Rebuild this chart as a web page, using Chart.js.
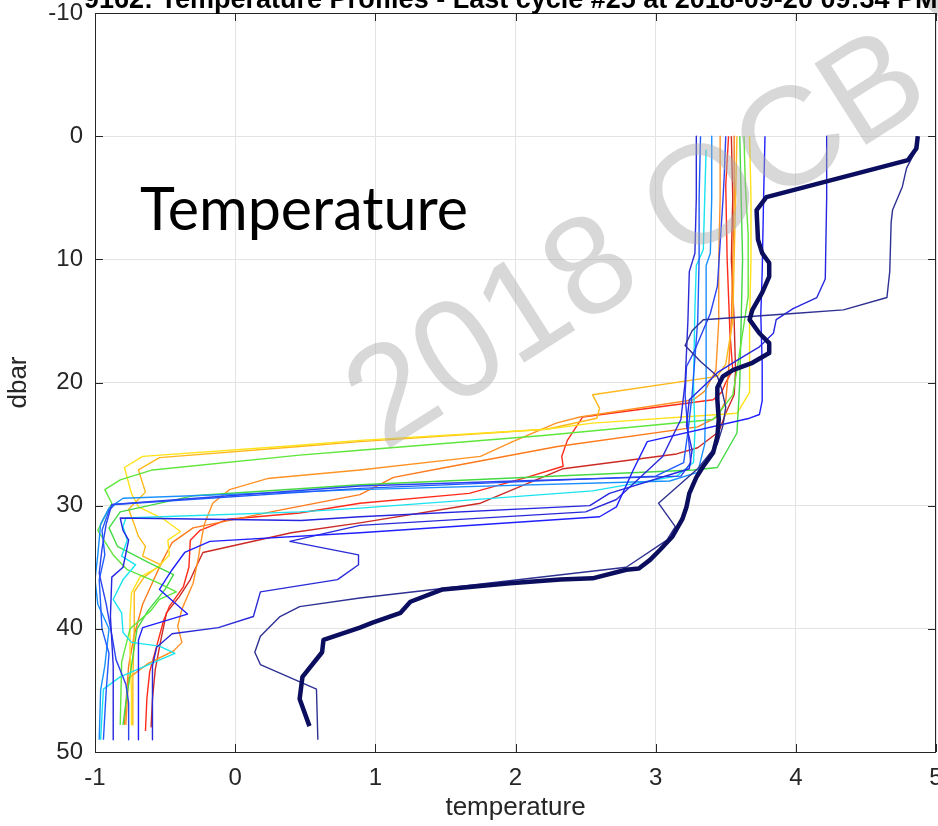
<!DOCTYPE html>
<html>
<head>
<meta charset="utf-8">
<script src="https://cdn.jsdelivr.net/npm/chart.js@4.4.0/dist/chart.umd.min.js"></script>
<style>
  html, body { margin: 0; padding: 0; background: #fff; overflow: hidden; }
</style>
</head>
<body>
<canvas id="profiles" width="938" height="826"></canvas>
<script>
// temperature / pressure pairs for each float cycle: [temperature, dbar]
const cycle01 = [[4.87,0],[4.84,1.5],[4.79,2.6],[4.76,4.1],[4.69,6.0],[4.68,7.0],[4.67,11.0],[4.65,13.1],[4.34,14.1],[3.98,14.4],[3.34,14.9],[3.26,15.8],[3.21,17.0],[3.32,18.3],[3.44,19.5],[3.47,20.5],[3.50,22.0],[3.48,23.5],[3.44,25.0],[3.30,27.0],[3.17,28.3],[3.02,29.8],[3.14,31.7],[3.08,32.8],[2.79,35.0],[0.89,37.5],[0.46,38.2],[0.32,39.0],[0.18,40.6],[0.14,41.9],[0.18,42.9],[0.58,44.9],[0.59,49.0]];
const cycle02 = [[4.22,0],[4.22,5.0],[4.21,11.6],[4.15,13.1],[3.98,14.0],[3.86,14.9],[3.84,16.0],[3.74,17.1],[3.58,18.2],[3.44,19.2],[3.37,20.0],[3.24,21.4],[3.22,23.5],[3.26,25.5],[3.24,27.0],[2.67,29.0],[2.53,30.0],[0.89,30.9],[0.47,31.2],[-0.82,31.0],[-0.80,32.0],[-0.76,32.8],[-0.80,35.0],[-0.88,35.8],[-0.89,39.0],[-0.87,43.0],[-0.87,49.0]];
const cycle03 = [[3.78,0],[3.77,5.0],[3.76,11.0],[3.75,14.5],[3.76,18.5],[3.76,21.5],[3.74,22.6],[3.67,22.9],[2.94,24.8],[2.84,27.1],[2.72,30.1],[2.60,30.9],[0.89,32.2],[-0.18,32.9],[-0.36,33.8],[-0.45,35.2],[-0.54,36.8],[-0.34,38.8],[-0.66,39.9],[-0.69,40.9],[-0.69,49.0]];
const cycle04 = [[3.50,0],[3.49,3.0],[3.48,5.2],[3.44,12.2],[3.39,14.4],[3.27,17.6],[3.22,18.7],[3.21,21.0],[3.23,24.0],[3.25,26.5],[3.18,27.6],[2.00,28.0],[0.89,28.4],[-0.88,29.9],[-0.92,31.5],[-0.95,33.5],[-0.97,35.5],[-0.92,38.0],[-0.88,40.5],[-0.85,42.5],[-0.78,44.5],[-0.76,46.0],[-0.76,49.0]];
const cycle05 = [[3.32,0],[3.31,5.0],[3.31,10.0],[3.30,15.0],[3.28,18.0],[3.26,21.0],[3.23,24.0],[3.20,26.5],[3.00,27.6],[0.89,28.6],[-0.86,29.9],[-0.90,30.4],[-0.95,32.0],[-0.93,34.0],[-0.97,36.0],[-0.95,40.0],[-0.90,42.0],[-0.92,45.0],[-0.94,49.0]];
const cycle06 = [[3.40,0],[3.40,5.0],[3.39,9.5],[3.36,10.5],[3.36,15.0],[3.36,20.0],[3.35,25.0],[3.30,27.3],[3.10,28.0],[0.89,28.7],[-0.80,29.4],[-0.90,30.2],[-0.96,31.5],[-0.98,34.0],[-1.00,36.0],[-0.98,38.0],[-0.90,40.0],[-0.93,43.0],[-0.96,45.0],[-0.97,49.0]];
const cycle07 = [[3.36,1.1],[3.35,5.0],[3.34,9.2],[3.29,10.5],[3.28,14.0],[3.27,20.0],[3.28,24.0],[3.27,26.5],[3.15,27.6],[2.55,28.8],[0.89,30.2],[0.46,30.5],[-0.78,31.0],[-0.80,31.7],[-0.77,32.8],[-0.81,34.1],[-0.71,34.8],[-0.80,36.0],[-0.87,37.6],[-0.81,38.7],[-0.80,40.3],[-0.74,41.1],[-0.54,41.4],[-0.43,42.0],[-0.82,43.9],[-0.94,44.9],[-0.96,49.0]];
const cycle08 = [[3.63,0],[3.64,4.0],[3.66,8.0],[3.66,13.0],[3.62,16.0],[3.58,19.0],[3.55,21.0],[3.45,22.5],[3.41,23.0],[2.20,24.3],[0.89,25.5],[0.46,25.9],[-0.59,27.1],[-0.82,27.9],[-0.93,28.7],[-0.88,29.8],[-0.98,32.0],[-0.87,34.0],[-0.77,35.2],[-0.56,36.2],[-0.42,37.0],[-0.54,37.6],[-0.60,38.5],[-0.75,40.0],[-0.81,42.7],[-0.82,47.8]];
const cycle09 = [[3.60,0],[3.61,5.0],[3.62,10.0],[3.61,15.0],[3.60,20.0],[3.58,24.1],[3.44,26.9],[3.27,27.1],[0.89,28.3],[-0.30,29.2],[-0.82,30.5],[-0.90,31.8],[-0.84,33.3],[-0.62,34.6],[-0.44,35.6],[-0.50,36.8],[-0.62,38.5],[-0.70,40.0],[-0.74,43.0],[-0.78,46.0],[-0.80,47.8]];
const cycle10 = [[3.67,0],[3.68,5.0],[3.68,10.0],[3.67,15.0],[3.67,19.8],[3.67,20.8],[3.58,22.5],[2.55,23.3],[2.22,23.8],[0.89,24.7],[0.46,25.1],[-0.66,26.0],[-0.79,26.9],[-0.74,29.0],[-0.69,30.1],[-0.51,31.1],[-0.39,32.1],[-0.48,32.8],[-0.47,34.0],[-0.55,35.0],[-0.68,35.8],[-0.74,37.1],[-0.75,39.0],[-0.75,41.9],[-0.74,45.2],[-0.74,47.8]];
const cycle11 = [[3.58,0],[3.57,5.0],[3.56,10.0],[3.55,15.0],[3.50,18.5],[3.44,19.5],[2.55,21.0],[2.60,22.1],[2.58,22.9],[2.22,23.8],[0.89,24.8],[0.46,25.2],[-0.54,26.1],[-0.69,27.1],[-0.64,28.9],[-0.76,30.3],[-0.72,31.5],[-0.69,32.5],[-0.64,33.3],[-0.66,34.1],[-0.53,34.8],[-0.65,35.8],[-0.72,37.0],[-0.72,40.0],[-0.73,44.0],[-0.73,47.8]];
const cycle12 = [[3.46,0],[3.46,5.0],[3.45,10.0],[3.45,15.0],[3.43,19.0],[3.35,20.7],[3.27,21.4],[2.46,22.8],[2.29,23.3],[1.98,24.8],[1.75,26.0],[0.89,27.1],[0.23,27.8],[-0.04,28.7],[-0.16,29.8],[-0.22,31.5],[-0.25,33.3],[-0.26,34.1],[-0.30,36.3],[-0.38,38.4],[-0.41,39.8],[-0.38,41.1],[-0.44,41.8],[-0.62,42.8],[-0.76,44.0],[-0.78,47.8]];
const cycle13 = [[3.56,0],[3.56,5.0],[3.55,10.0],[3.54,15.0],[3.52,19.0],[3.50,21.5],[3.44,22.8],[3.30,23.6],[2.30,25.2],[1.50,26.9],[1.13,27.7],[0.89,29.1],[0.30,30.4],[-0.30,31.8],[-0.45,33.0],[-0.52,34.5],[-0.58,36.0],[-0.66,38.0],[-0.72,40.5],[-0.76,43.0],[-0.79,47.8]];
const cycle14 = [[3.52,0],[3.50,4.0],[3.51,10.0],[3.53,16.0],[3.55,19.0],[3.50,20.0],[3.47,20.8],[3.41,21.4],[2.48,22.8],[2.37,24.7],[2.33,26.0],[2.34,26.8],[2.08,27.7],[1.67,29.0],[0.89,29.8],[0.46,30.6],[-0.05,31.1],[-0.25,32.0],[-0.32,32.8],[-0.33,35.0],[-0.37,36.6],[-0.47,38.2],[-0.51,39.3],[-0.56,41.4],[-0.61,43.5],[-0.63,45.7],[-0.64,48.3]];
const cycle15 = [[3.54,0],[3.55,5.0],[3.54,10.0],[3.56,15.0],[3.57,19.0],[3.56,21.0],[3.50,22.5],[3.45,24.0],[3.30,25.3],[3.15,25.8],[2.34,27.0],[1.75,29.8],[0.89,31.4],[0.40,32.2],[-0.23,33.8],[-0.28,35.0],[-0.32,36.0],[-0.40,37.4],[-0.49,38.7],[-0.53,40.9],[-0.57,43.3],[-0.59,45.7],[-0.60,48.0]];
const cycle16 = [[3.29,0],[3.29,5.0],[3.28,9.5],[3.24,11.0],[3.23,15.0],[3.21,20.0],[3.18,23.0],[3.05,26.0],[2.72,29.5],[2.50,30.5],[0.89,31.6],[0.39,32.9],[0.88,34.0],[0.88,34.8],[0.73,36.0],[0.18,37.0],[0.13,39.0],[-0.12,39.9],[-0.45,40.4],[-0.56,41.5],[-0.59,43.0],[-0.59,49.0]];
const lastCycle = [[4.87,0],[4.86,1.0],[4.80,1.95],[3.79,4.95],[3.72,6.0],[3.73,8.4],[3.76,9.5],[3.81,10.3],[3.81,11.4],[3.76,12.7],[3.69,14.1],[3.67,14.9],[3.74,16.0],[3.81,16.8],[3.81,17.6],[3.69,18.4],[3.55,19.0],[3.48,19.5],[3.44,20.4],[3.44,21.4],[3.45,23.0],[3.44,24.4],[3.41,25.7],[3.34,26.8],[3.29,27.7],[3.24,29.0],[3.22,30.1],[3.19,31.1],[3.12,32.5],[3.03,33.6],[2.96,34.4],[2.88,35.1],[2.79,35.2],[2.55,35.9],[2.32,36.0],[1.96,36.3],[1.48,36.8],[1.25,37.8],[1.18,38.7],[0.98,39.5],[0.89,39.9],[0.63,40.9],[0.62,41.9],[0.48,43.9],[0.46,45.7],[0.53,47.9]];

const thinProfiles = [cycle01, cycle02, cycle03, cycle16, cycle04, cycle05, cycle06, cycle07,
  cycle08, cycle09, cycle10, cycle11, cycle12, cycle13, cycle14, cycle15];
// jet-like ramp, oldest (dark blue) to newest (dark red)
const thinColors = ['#2e3192', '#2626e0', '#1f1fff', '#2a2ad8', '#2b44f0', '#1f5cff', '#1a90ff', '#1ae3f0',
  '#5ee63c', '#44d944', '#ffe21a', '#ffb81a', '#ff9326', '#ff7a1a', '#ff2b1a', '#cc2a24'];

const xTicks = [-1, 0, 1, 2, 3, 4, 5];
const yTicks = [-10, 0, 10, 20, 30, 40, 50];

const titleText = '9162: Temperature Profiles - Last cycle #25 at 2018-09-20 09:34 PM';
const overlayText = 'Temperature';
const watermarkText = '2018 OCB Workshop';

const AXIS = '#262626';
const tickFont = { family: '"Liberation Sans", Arial, sans-serif', size: 24 };

const toPoints = arr => arr.map(([t, p]) => ({ x: t, y: p }));

const datasets = thinProfiles.map((prof, i) => ({
  data: toPoints(prof),
  borderColor: thinColors[i],
  borderWidth: 1.4,
  order: 1
}));
datasets.push({
  data: toPoints(lastCycle),
  borderColor: '#0b0e5e',
  borderWidth: 4.5,
  order: 0
});

// keep the plot box at fixed pixels: no extra room for overhanging tick labels
function fixBox(size) {
  return s => {
    if (s.isHorizontal()) s.height = size; else s.width = size;
    s.paddingLeft = s.paddingRight = s.paddingTop = s.paddingBottom = 0;
  };
}

// box, inward tick marks, labels and watermark
const decorations = {
  id: 'decorations',
  afterDatasetsDraw(chart) {
    const { ctx, chartArea: a, scales } = chart;
    ctx.save();

    // watermark sits over the lines
    ctx.save();
    ctx.translate(384, 452);
    ctx.rotate(-32.5 * Math.PI / 180);
    ctx.font = '140px "Liberation Sans", Arial, sans-serif';
    ctx.fillStyle = 'rgba(168,168,168,0.45)';
    ctx.textBaseline = 'alphabetic';
    ctx.fillText(watermarkText, 0, 0);
    ctx.restore();

    // frame
    ctx.strokeStyle = AXIS;
    ctx.lineWidth = 1;
    ctx.strokeRect(a.left + 0.5, a.top + 0.5, a.right - a.left - 1, a.bottom - a.top);

    ctx.beginPath();
    xTicks.forEach(v => {
      const x = Math.round(scales.x.getPixelForValue(v)) + 0.5;
      ctx.moveTo(x, a.top); ctx.lineTo(x, a.top + 8);
      ctx.moveTo(x, a.bottom); ctx.lineTo(x, a.bottom - 8);
    });
    yTicks.forEach(v => {
      const y = Math.round(scales.y.getPixelForValue(v)) + 0.5;
      ctx.moveTo(a.left, y); ctx.lineTo(a.left + 8, y);
      ctx.moveTo(a.right, y); ctx.lineTo(a.right - 8, y);
    });
    ctx.stroke();

    // axis titles
    ctx.fillStyle = AXIS;
    ctx.font = '26px "Liberation Sans", Arial, sans-serif';
    ctx.textAlign = 'center';
    ctx.textBaseline = 'middle';
    ctx.fillText('temperature', (a.left + a.right) / 2, 808);
    ctx.save();
    ctx.translate(19, (a.top + a.bottom) / 2);
    ctx.rotate(-Math.PI / 2);
    ctx.fillText('dbar', 0, 0);
    ctx.restore();

    // big label inside the plot
    ctx.fillStyle = '#000';
    ctx.textAlign = 'left';
    ctx.textBaseline = 'alphabetic';
    ctx.font = '60px Lato, "Open Sans", sans-serif';
    const w = ctx.measureText(overlayText).width;
    const size = 60 * 328 / w;
    ctx.font = size.toFixed(1) + 'px Lato, "Open Sans", sans-serif';
    ctx.fillText(overlayText, 140, 230);

    // title, clipped by the top edge
    ctx.font = 'bold 27px "Liberation Sans", Arial, sans-serif';
    ctx.fillText(titleText, 84, 8);

    ctx.restore();
  }
};

new Chart(document.getElementById('profiles'), {
  type: 'scatter',
  data: { datasets },
  options: {
    responsive: false,
    animation: false,
    showLine: true,
    layout: { padding: { top: 13, right: 2, left: 0, bottom: 0 } },
    elements: { point: { radius: 0 }, line: { tension: 0, borderJoinStyle: 'round' } },
    plugins: { legend: { display: false }, tooltip: { enabled: false } },
    scales: {
      x: {
        type: 'linear', min: -1, max: 5,
        afterBuildTicks: s => { s.ticks = xTicks.map(v => ({ value: v })); },
        afterFit: fixBox(74),
        ticks: { font: tickFont, color: AXIS, padding: 12, maxRotation: 0 },
        grid: { color: '#e3e3e3', drawTicks: false },
        border: { display: false }
      },
      y: {
        type: 'linear', min: -10, max: 50, reverse: true,
        afterBuildTicks: s => { s.ticks = yTicks.map(v => ({ value: v })); },
        afterFit: fixBox(95),
        ticks: { font: tickFont, color: AXIS, padding: 12 },
        grid: { color: '#e3e3e3', drawTicks: false },
        border: { display: false }
      }
    }
  },
  plugins: [decorations]
});
</script>
</body>
</html>
